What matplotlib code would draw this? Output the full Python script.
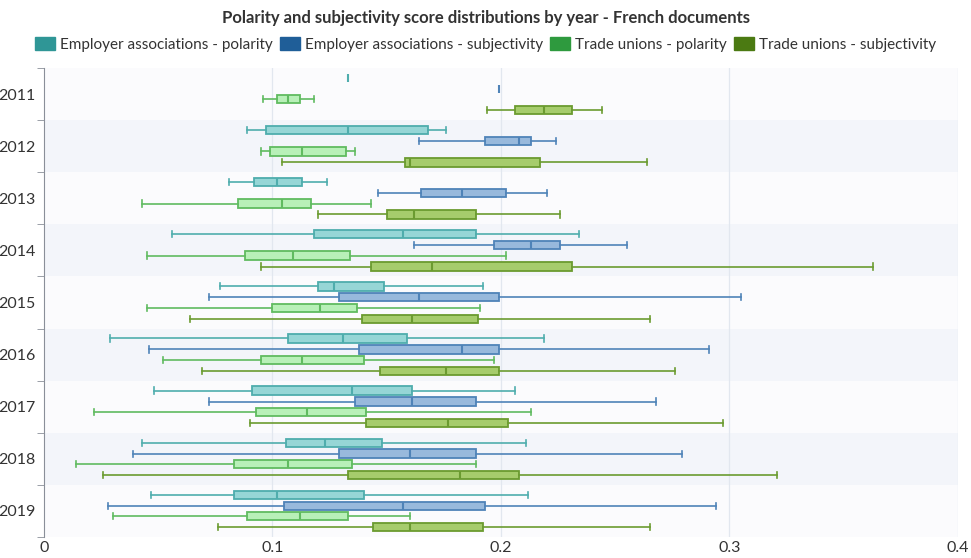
import matplotlib.pyplot as plt
from matplotlib.patches import Patch

years = ["2011", "2012", "2013", "2014", "2015", "2016", "2017", "2018", "2019"]
series = ["Employer associations - polarity", "Employer associations - subjectivity",
          "Trade unions - polarity", "Trade unions - subjectivity"]

# [min, q1, median, q3, max] per year
emp_pol = [
    [0.133, 0.133, 0.133, 0.133, 0.133],
    [0.089, 0.097, 0.133, 0.168, 0.176],
    [0.081, 0.092, 0.102, 0.113, 0.124],
    [0.056, 0.118, 0.157, 0.189, 0.234],
    [0.077, 0.120, 0.127, 0.149, 0.192],
    [0.029, 0.107, 0.131, 0.159, 0.219],
    [0.048, 0.091, 0.135, 0.161, 0.206],
    [0.043, 0.106, 0.123, 0.148, 0.211],
    [0.047, 0.083, 0.102, 0.140, 0.212],
]
emp_subj = [
    [0.199, 0.199, 0.199, 0.199, 0.199],
    [0.164, 0.193, 0.208, 0.213, 0.224],
    [0.146, 0.165, 0.183, 0.202, 0.220],
    [0.162, 0.197, 0.213, 0.226, 0.255],
    [0.072, 0.129, 0.164, 0.199, 0.305],
    [0.046, 0.138, 0.183, 0.199, 0.291],
    [0.072, 0.136, 0.161, 0.189, 0.268],
    [0.039, 0.129, 0.160, 0.189, 0.279],
    [0.028, 0.105, 0.157, 0.193, 0.294],
]
tu_pol = [
    [0.096, 0.102, 0.107, 0.112, 0.118],
    [0.095, 0.099, 0.113, 0.132, 0.136],
    [0.043, 0.085, 0.104, 0.117, 0.143],
    [0.045, 0.088, 0.109, 0.134, 0.202],
    [0.045, 0.100, 0.121, 0.137, 0.191],
    [0.052, 0.095, 0.113, 0.140, 0.197],
    [0.022, 0.093, 0.115, 0.141, 0.213],
    [0.014, 0.083, 0.107, 0.135, 0.189],
    [0.030, 0.089, 0.112, 0.133, 0.160],
]
tu_subj = [
    [0.194, 0.206, 0.219, 0.231, 0.244],
    [0.104, 0.158, 0.160, 0.217, 0.264],
    [0.120, 0.150, 0.162, 0.189, 0.226],
    [0.095, 0.143, 0.170, 0.231, 0.363],
    [0.064, 0.139, 0.161, 0.190, 0.265],
    [0.069, 0.147, 0.176, 0.199, 0.276],
    [0.090, 0.141, 0.177, 0.203, 0.297],
    [0.026, 0.133, 0.182, 0.208, 0.321],
    [0.076, 0.144, 0.160, 0.192, 0.265],
]

all_data = [emp_pol, emp_subj, tu_pol, tu_subj]
fills = ["#96d6d6", "#98b9dc", "#b8f0b8", "#a6cc6c"]
edges = ["#4fadad", "#4f83b8", "#60bb60", "#6b9b30"]
legend_colors = ["#2f9696", "#1f5e98", "#2e9a3e", "#4b7a12"]
offsets = [-0.31, -0.1, 0.1, 0.31]

plt.rcParams['font.family'] = ['Lato', 'DejaVu Sans']

fig = plt.figure(figsize=(9.71, 5.58), dpi=100)
ax = fig.add_axes([0.0453, 0.0376, 0.9413, 0.8405])

# alternating bands
for i in range(len(years)):
    ax.axhspan(i - 0.5, i + 0.5, color="#f3f5fa" if i % 2 else "#fbfbfd", lw=0, zorder=0)

for x in [0.1, 0.2, 0.3, 0.4]:
    ax.axvline(x, color="#e2e7ef", lw=0.9, zorder=1)

for s, data in enumerate(all_data):
    stats = []
    for i, (mn, q1, med, q3, mx) in enumerate(data):
        stats.append(dict(whislo=mn, q1=q1, med=med, q3=q3, whishi=mx, fliers=[]))
    pos = [i + offsets[s] for i in range(len(years))]
    ax.bxp(stats, positions=pos, widths=0.16, capwidths=0.12,
           orientation='horizontal', patch_artist=True, showfliers=False,
           manage_ticks=False, zorder=3,
           boxprops=dict(facecolor=fills[s], edgecolor=edges[s], lw=1.3),
           whiskerprops=dict(color=edges[s], lw=1.2),
           capprops=dict(color=edges[s], lw=1.2),
           medianprops=dict(color=edges[s], lw=1.5))

ax.set_xlim(0, 0.4)
ax.set_ylim(8.5, -0.5)
ax.set_xticks([0, 0.1, 0.2, 0.3, 0.4])
ax.set_xticklabels(["0", "0.1", "0.2", "0.3", "0.4"])
ax.set_yticks(range(len(years)))
ax.set_yticklabels(years)
ax.set_yticks([i - 0.5 for i in range(len(years) + 1)], minor=True)
ax.tick_params(axis='y', which='major', length=0, labelsize=11.5, pad=6, labelcolor="#333333")
ax.tick_params(axis='y', which='minor', length=5, color="#8a8f99")
ax.tick_params(axis='x', length=0, labelsize=11.5, labelcolor="#333333", pad=3)
for sp in ["top", "right", "bottom"]:
    ax.spines[sp].set_visible(False)
ax.spines["left"].set_color("#8a8f99")

fig.text(0.5, 0.968, "Polarity and subjectivity score distributions by year - French documents",
         ha="center", va="center", fontsize=12, fontweight="bold", color="#333333")

handles = [Patch(facecolor=c, edgecolor=c, label=l) for c, l in zip(legend_colors, series)]
fig.legend(handles=handles, loc="center", bbox_to_anchor=(0.5, 0.921), ncol=4, frameon=False,
           fontsize=11, handlelength=1.3, handleheight=1.0, handletextpad=0.3,
           columnspacing=0.5, labelcolor="#333333")

fig.savefig("out.png", dpi=100)
